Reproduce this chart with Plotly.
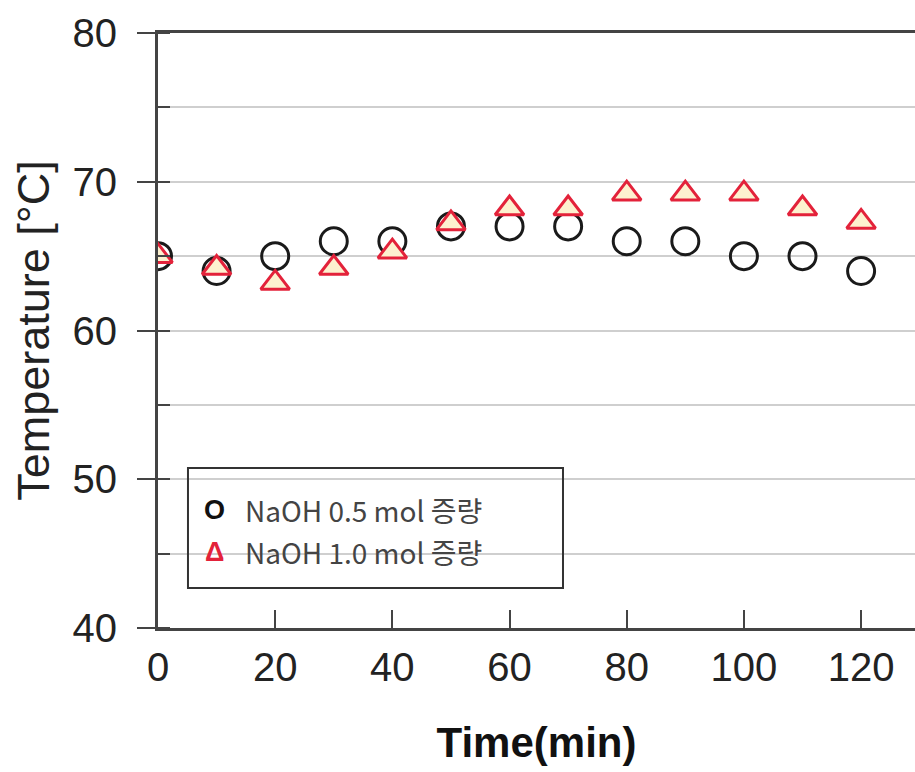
import plotly.graph_objects as go

time_min = [0, 10, 20, 30, 40, 50, 60, 70, 80, 90, 100, 110, 120]
temp_naoh_05 = [65, 64, 65, 66, 66, 67, 67, 67, 66, 66, 65, 65, 64]
temp_naoh_10 = [65, 64.2, 63.2, 64.2, 65.3, 67.2, 68.2, 68.2, 69.2, 69.2, 69.2, 68.2, 67.3]
legend_labels = ["NaOH 0.5 mol 증량", "NaOH 1.0 mol 증량"]
x_ticks = [0, 20, 40, 60, 80, 100, 120]
y_ticks = [40, 50, 60, 70, 80]

AX = "#444444"
FONT = "Liberation Sans, Arial, sans-serif"

fig = go.Figure()
fig.add_trace(go.Scatter(
    x=time_min, y=temp_naoh_05, mode="markers", name=legend_labels[0],
    marker=dict(symbol="circle-open", size=27, color="#1a1a1a",
                line=dict(width=3, color="#1a1a1a")),
    showlegend=False))
fig.add_trace(go.Scatter(
    x=time_min, y=temp_naoh_10, mode="markers", name=legend_labels[1],
    marker=dict(symbol="triangle-up", size=25, color="#fdf1cf",
                line=dict(width=3, color="#e3223a")),
    showlegend=False))

fig.update_layout(
    width=915, height=772,
    margin=dict(l=158, r=0, t=33, b=144),
    paper_bgcolor="white", plot_bgcolor="white",
    font=dict(family=FONT, color="#222222"),
    showlegend=False,
)
fig.update_xaxes(
    range=[0, 129.2], tickvals=x_ticks, ticks="inside", ticklen=18, tickwidth=2,
    tickcolor=AX, showline=True, linecolor=AX, linewidth=3, mirror=True,
    showgrid=False, zeroline=False, tickfont=dict(size=40, color="#222222"),
    ticklabelstandoff=2, automargin=False,
    title=dict(text="<b>Time(min)</b>", font=dict(size=42, color="#111111"), standoff=40),
)
fig.update_yaxes(
    range=[40, 80], tickvals=y_ticks, ticks="outside", ticklen=18, tickwidth=2,
    tickcolor=AX, showline=True, linecolor=AX, linewidth=3, automargin=False,
    showgrid=True, gridcolor="#cfcfcf", gridwidth=2, zeroline=False,
    minor=dict(dtick=5, tick0=45, ticks="inside", ticklen=12, tickwidth=2,
               tickcolor=AX, showgrid=True, gridcolor="#cfcfcf", gridwidth=2),
    tickfont=dict(size=40, color="#222222"), ticklabelstandoff=12,
    title=dict(text="Temperature [°C]", font=dict(size=45, color="#222222"), standoff=9),
)

# legend box drawn like the original (text glyph symbols)
fig.add_shape(type="rect", xref="paper", yref="paper",
              x0=0.0396, x1=0.535, y0=0.0672, y1=0.269,
              line=dict(color="#333333", width=2), fillcolor="rgba(0,0,0,0)")
glyphs = ["<b>O</b>", "<b>Δ</b>"]
glyph_colors = ["#111111", "#e3223a"]
rows_y = [0.198, 0.128]
for g, c, lab, yy in zip(glyphs, glyph_colors, legend_labels, rows_y):
    fig.add_annotation(xref="paper", yref="paper", x=0.0745, y=yy, text=g,
                       showarrow=False, xanchor="center", yanchor="middle",
                       font=dict(family=FONT, size=27, color=c))
    fig.add_annotation(xref="paper", yref="paper", x=0.112, y=yy, text=lab,
                       showarrow=False, xanchor="left", yanchor="middle",
                       font=dict(family="Noto Sans CJK KR, sans-serif", size=28, color="#444444"))

fig.write_html("out.html", config={"displayModeBar": False},
               post_script="document.body.style.margin='0';document.body.style.overflow='hidden';")
